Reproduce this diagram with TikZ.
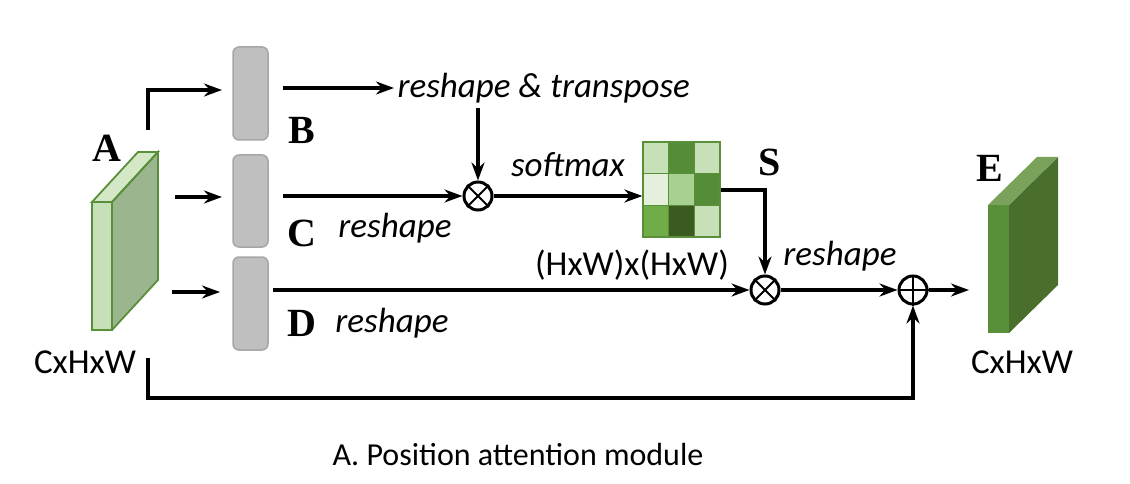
\documentclass[tikz,border=0pt]{standalone}
\usepackage{fontspec}
\setmainfont{Carlito}
\newfontfamily\serifb{Liberation Serif}
\usetikzlibrary{arrows.meta}
\begin{document}
\begin{tikzpicture}[x=1pt,y=-1pt,
  arr/.style={line width=3.2pt,-{Stealth[length=18pt,width=13pt]}},
  bar/.style={draw=gray!70,fill=gray!50,line width=1.5pt,rounded corners=6pt},
  op/.style={circle,draw,line width=3pt,minimum size=28pt,inner sep=0pt},
  lab/.style={font=\serifb\bfseries\fontsize{40}{40}\selectfont},
  it/.style={font=\itshape\fontsize{35}{35}\selectfont},
  tx/.style={font=\fontsize{35}{35}\selectfont}]
\useasboundingbox (0,0) rectangle (1130,484);
% A block
\fill[fill={rgb,255:red,155;green,182;blue,142}] (112,202)--(158,152)--(158,280)--(112,330)--cycle;
\draw[draw={rgb,255:red,90;green,143;blue,58},fill={rgb,255:red,212;green,232;blue,200},line width=1.8pt] (92,202)--(138,152)--(158,152)--(112,202)--cycle;
\draw[draw={rgb,255:red,90;green,143;blue,58},fill={rgb,255:red,200;green,224;blue,184},line width=1.8pt] (92,202) rectangle (112,330);
\draw[draw={rgb,255:red,90;green,143;blue,58},line width=1.8pt] (112,202)--(158,152)--(158,280)--(112,330);
\node[lab] (la) at (107,148) {A};
\node[tx] (ca) at (85,362) {CxHxW};
% bars
\node[bar,minimum width=35pt,minimum height=93pt] (b) at (250.5,93.5) {};
\node[bar,minimum width=35pt,minimum height=92pt] (c) at (250.5,201) {};
\node[bar,minimum width=35pt,minimum height=93pt] (d) at (250.5,303.5) {};
\node[lab] (lb) at (302,130) {B};
\node[lab] (lc) at (302,233) {C};
\node[lab] (ld) at (302,323) {D};
\coordinate (a0) at (148,130);
\coordinate (a1) at (148,90);
\draw[arr] (a0)--(a1)--(222,90);
\draw[arr] (175,197)--(222,197);
\draw[arr] (172,292)--(220,292);
% B path
\node[it,anchor=west] (rt) at (394,88) {reshape \& transpose};
\draw[arr] (283,88)--(rt.west);
\node[op] (m1) at (478,196) {};
\draw[line width=2pt] (m1.45)--(m1.225) (m1.135)--(m1.315);
\draw[arr] (478,108)--(m1.north);
\draw[arr] (283,196)--(m1.west);
\node[it] (rc) at (395,228) {reshape};
\node[it] (sm) at (568,165) {softmax};
% S matrix
\def\cell#1#2#3#4#5{\fill[fill={rgb,255:red,#3;green,#4;blue,#5},draw={rgb,255:red,90;green,143;blue,58},line width=1.2pt] ({643+#1*25.7},{142+#2*31.7}) rectangle ++(25.7,31.7);}
\cell00{200}{224}{184}\cell10{84}{140}{56}\cell20{200}{224}{184}
\cell01{228}{240}{220}\cell11{168}{208}{144}\cell21{84}{140}{56}
\cell02{112}{172}{72}\cell12{58}{90}{32}\cell22{200}{224}{184}
\node[minimum width=77pt,minimum height=95pt,inner sep=0pt,draw={rgb,255:red,90;green,143;blue,58},line width=1.2pt] (s) at (681.5,189.5) {};
\node[lab] (ls) at (770,162) {S};
\draw[arr] (m1.east)--(s.west |- m1.east);
\node[op] (m2) at (765,290) {};
\draw[line width=2pt] (m2.45)--(m2.225) (m2.135)--(m2.315);
\coordinate (s1) at (765,190);
\draw[arr] (s.east |- s1)--(s1)--(m2.north);
\draw[arr] (273,290)--(m2.west);
\node[tx] (hw) at (632,265) {(HxW)x(HxW)};
\node[it] (rd) at (392,323) {reshape};
\node[it] (rm) at (840,256) {reshape};
\node[op] (p) at (913,290) {};
\draw[line width=2pt] (p.north)--(p.south) (p.west)--(p.east);
\draw[arr] (m2.east)--(p.west);
\draw[arr] (p.east)--(969,290);
% E block
\fill[fill={rgb,255:red,74;green,110;blue,44}] (1009,205)--(1058,157)--(1058,285)--(1009,333)--cycle;
\fill[fill={rgb,255:red,122;green,162;blue,90}] (988,205)--(1037,157)--(1058,157)--(1009,205)--cycle;
\fill[fill={rgb,255:red,90;green,143;blue,58}] (988,205) rectangle (1009,333);
\node[lab] (le) at (990,168) {E};
\node[tx] (ce) at (1022,362) {CxHxW};
% bottom
\coordinate (q0) at (148,358);
\coordinate (q1) at (148,398);
\coordinate (q2) at (913,398);
\draw[arr] (q0)--(q1)--(q2)--(p.south);
\node[font=\fontsize{32}{32}\selectfont] (cap) at (518,455) {A. Position attention module};
\end{tikzpicture}
\end{document}
